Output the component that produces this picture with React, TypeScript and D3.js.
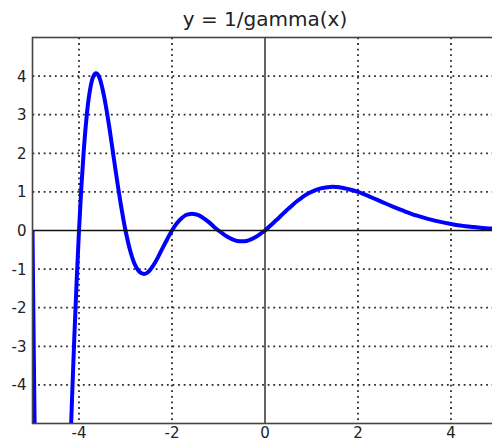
import React from "react";
import * as d3 from "d3";

// values (y = 1/gamma(x)); points outside [-5,5] in y get clipped
const curveX = [
  -5, -4.95, -4.9, -4.8, -4.7, -4.6, -4.5, -4.4, -4.3, -4.25, -4.2, -4.15, -4.1, -4.05,
  -4, -3.95, -3.9, -3.85, -3.8, -3.75, -3.7, -3.65, -3.6, -3.55, -3.5, -3.45, -3.4,
  -3.35, -3.3, -3.25, -3.2, -3.15, -3.1, -3.05, -3,
  -2.9, -2.8, -2.7, -2.6, -2.5, -2.4, -2.3, -2.2, -2.1, -2,
  -1.9, -1.8, -1.7, -1.6, -1.5, -1.4, -1.3, -1.2, -1.1, -1,
  -0.9, -0.8, -0.7, -0.6, -0.5, -0.4, -0.3, -0.2, -0.1, 0,
  0.1, 0.2, 0.3, 0.4, 0.5, 0.6, 0.7, 0.8, 0.9, 1,
  1.2, 1.4, 1.6, 1.8, 2, 2.25, 2.5, 2.75, 3, 3.25, 3.5, 3.75, 4, 4.25, 4.5, 4.75, 5,
];
const curveY = [
  0, -5.49, -9.96, -16.0, -18.7, -18.6, -16.7, -13.5, -9.8, -7.93, -6.1, -4.36, -2.75, -1.29,
  0, 1.11, 2.03, 2.77, 3.34, 3.73, 3.97, 4.07, 4.05, 3.92, 3.7, 3.41, 3.07,
  2.69, 2.28, 1.86, 1.45, 1.05, 0.67, 0.32, 0,
  -0.52, -0.88, -1.07, -1.13, -1.06, -0.9, -0.69, -0.45, -0.22, 0,
  0.18, 0.31, 0.4, 0.43, 0.42, 0.38, 0.3, 0.21, 0.1, 0,
  -0.09, -0.17, -0.23, -0.27, -0.28, -0.27, -0.23, -0.17, -0.09, 0,
  0.11, 0.22, 0.33, 0.45, 0.56, 0.67, 0.77, 0.86, 0.94, 1,
  1.09, 1.13, 1.12, 1.07, 1, 0.88, 0.75, 0.62, 0.5, 0.39, 0.3, 0.23, 0.17, 0.12, 0.09, 0.06, 0.04,
];

const xTicks = [-4, -2, 0, 2, 4];
const yTicks = [-4, -3, -2, -1, 0, 1, 2, 3, 4];
const title = "y = 1/gamma(x)";

const W = 492;
const H = 441;
const left = 32.5;
const right = 497.5;
const top = 37.5;
const bottom = 423.5;
const font = "'DejaVu Sans', Verdana, sans-serif";

export default function App() {
  const x = d3.scaleLinear().domain([-5, 5]).range([left, right]);
  const y = d3.scaleLinear().domain([-5, 5]).range([bottom, top]);

  const pts: [number, number][] = curveX.map((v, i) => [v, curveY[i]]);
  const line = d3
    .line<[number, number]>()
    .x((d) => x(d[0]))
    .y((d) => y(d[1]))
    .curve(d3.curveCatmullRom.alpha(0.5));

  const grid = "#2a2a2a";
  const dash = "1.8,3.8";

  return (
    <svg
      width={W}
      height={H}
      style={{ position: "absolute", left: 0, top: 0, background: "#fff" }}
      fontFamily={font}
    >
      <defs>
        <clipPath id="plot">
          <rect x={left} y={top} width={right - left} height={bottom - top} />
        </clipPath>
      </defs>

      <text x={(left + right) / 2} y={26} textAnchor="middle" fontSize={20} fill="#222">
        {title}
      </text>

      {/* dotted grid */}
      {xTicks.filter((t) => t !== 0).map((t) => (
        <line key={"gx" + t} x1={x(t)} x2={x(t)} y1={top} y2={bottom}
          stroke={grid} strokeWidth={1.8} strokeDasharray={dash} />
      ))}
      {yTicks.filter((t) => t !== 0).map((t) => (
        <line key={"gy" + t} x1={left} x2={right} y1={y(t)} y2={y(t)}
          stroke={grid} strokeWidth={1.8} strokeDasharray={dash} />
      ))}

      <path d={line(pts) ?? ""} fill="none" stroke="#0000ff" strokeWidth={4}
        strokeLinejoin="round" clipPath="url(#plot)" />

      {/* zero axes */}
      <line x1={x(0)} x2={x(0)} y1={top} y2={bottom} stroke="#111" strokeWidth={1.3} />
      <line x1={left} x2={right} y1={y(0)} y2={y(0)} stroke="#111" strokeWidth={1.3} />

      {/* frame */}
      <rect x={left} y={top} width={right - left} height={bottom - top}
        fill="none" stroke="#444" strokeWidth={1.6} />

      {yTicks.map((t) => (
        <text key={"ty" + t} x={left - 6} y={y(t)} dy="0.36em" textAnchor="end"
          fontSize={15} fill="#222">
          {String(t)}
        </text>
      ))}
      {xTicks.map((t) => (
        <text key={"tx" + t} x={x(t)} y={437.5} textAnchor="middle" fontSize={15} fill="#222">
          {String(t)}
        </text>
      ))}
    </svg>
  );
}
